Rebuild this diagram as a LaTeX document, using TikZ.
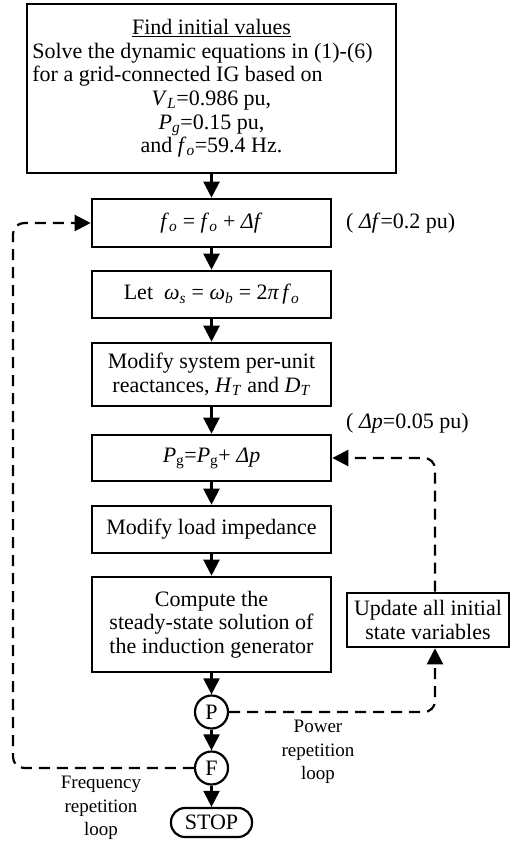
\documentclass[tikz,border=0pt]{standalone}
\usepackage{fontspec}
\setmainfont{Liberation Serif}
\usetikzlibrary{arrows.meta,calc}
\newcommand{\iv}[1]{\textit{#1}}
\newcommand{\lsub}[1]{\textsubscript{#1}}
\newlength{\linew}
\begin{document}
\settowidth{\linew}{\fontsize{22}{23.6}\selectfont Solve the dynamic equations in (1)-(6)}%
\addtolength{\linew}{18pt}%
\begin{tikzpicture}[x=1pt,y=-1pt,
  box/.style={draw,line width=2.6pt,minimum width=239pt,align=center,inner sep=2pt,font=\fontsize{22}{23.6}\selectfont},
  flow/.style={line width=2.2pt,-{Triangle[length=16pt,width=16pt]}},
  dloop/.style={line width=2.2pt,dash pattern=on 11pt off 7pt,rounded corners=11pt,-{Triangle[length=16pt,width=16pt]}},
  lbl/.style={font=\fontsize{22}{23.6}\selectfont,inner sep=0pt},
  small/.style={font=\fontsize{19}{23.3}\selectfont,align=center,inner sep=0pt},
  junc/.style={draw,circle,line width=2.2pt,minimum size=33pt,inner sep=0pt,font=\fontsize{22}{23.6}\selectfont}]
\useasboundingbox (0,0) rectangle (522,845);
\node[box,minimum width=369pt,minimum height=169pt] (init) at (211.5,88.5)
  {\underline{Find initial values}\\
   \makebox[\linew][l]{Solve the dynamic equations in (1)-(6)}\\
   \makebox[\linew][l]{for a grid-connected IG based on}\\
   \iv{V}\lsub{\iv{L}}=0.986 pu,\\
   \iv{P}\lsub{\iv{g}}=0.15 pu,\\
   and \iv{f}\lsub{\iv{o}}=59.4 Hz.};
\node[box,minimum height=48pt] (b2) at (211.5,223) {\iv{f}\lsub{\iv{o}} = \iv{f}\lsub{\iv{o}} + \iv{Δf}};
\node[box,minimum height=47pt] (b3) at (211.5,294.5) {Let\ \ \iv{ω}\lsub{\iv{s}} = \iv{ω}\lsub{\iv{b}} = 2\iv{π\,f}\lsub{\iv{o}}};
\node[box,minimum height=63pt] (b4) at (211.5,374.5) {Modify system per-unit\\reactances, \iv{H}\lsub{\iv{T}} and \iv{D}\lsub{\iv{T}}};
\node[box,minimum height=46pt] (b5) at (211.5,458) {\iv{P}\lsub{g}=\iv{P}\lsub{g}+ \iv{Δp}};
\node[box,minimum height=47pt] (b6) at (211.5,529.5) {Modify load impedance};
\node[box,minimum height=95pt] (b7) at (211.5,624.5) {Compute the\\steady-state solution of\\the induction generator};
\node[box,minimum width=162pt,minimum height=54pt] (upd) at (428,620) {Update all initial\\state variables};
\node[junc] (P) at (211.5,712) {P};
\node[junc] (F) at (211.5,768) {F};
\node[draw,rounded corners=14pt,line width=2.2pt,minimum width=81pt,minimum height=29pt,inner sep=0pt,font=\fontsize{22}{23.6}\selectfont] (stop) at (211.5,822.5) {STOP};
\node[lbl,anchor=west] (df) at (346,223) {( \iv{Δf}=0.2 pu)};
\node[lbl,anchor=west] (dp) at (346,423) {( \iv{Δp}=0.05 pu)};
\node[small] (pl) at (318,752) {Power\\repetition\\loop};
\node[small] (fl) at (101,808) {Frequency\\repetition\\loop};
\coordinate (fc) at (13,223);
\coordinate (px) at (435,0);
\draw[flow] (init) -- (b2);
\draw[flow] (b2) -- (b3);
\draw[flow] (b3) -- (b4);
\draw[flow] (b4) -- (b5);
\draw[flow] (b5) -- (b6);
\draw[flow] (b6) -- (b7);
\draw[flow] (b7) -- (P);
\draw[flow] (P) -- (F);
\draw[flow] (F) -- (stop);
\draw[dloop] (F.west) -| (fc) -- (b2.west);
\draw[dloop] (P.east) -| (upd.south -| px);
\draw[dloop] (upd.north -| px) |- (b5.east);
\end{tikzpicture}
\end{document}
